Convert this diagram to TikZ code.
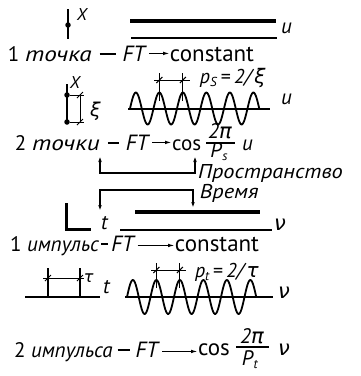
\documentclass[tikz,border=0pt]{standalone}
\usepackage{fontspec}
\setmainfont{PT Sans}
\newfontfamily\gr{DejaVu Sans}
\newfontfamily\wide[FakeStretch=1.2]{PT Sans}
\newfontfamily\wider[FakeStretch=1.12]{PT Sans}
\usetikzlibrary{arrows.meta}
\newcommand{\subx}[1]{\raisebox{-3.5pt}{\fontsize{13}{14}\selectfont\textit{#1}}}
\newcommand{\dsh}[1]{\rule[6.5pt]{#1}{1.3pt}}
\newcommand{\ftx}{{\fontsize{22}{24}\selectfont\textit{FT}}}
\begin{document}
\begin{tikzpicture}[x=1pt,y=-1pt,
  every node/.style={inner sep=0pt, outer sep=0pt},
  lbl/.style={font=\fontsize{21}{24}\selectfont},
  up/.style={font=\fontsize{23}{26}\selectfont},
  itl/.style={font=\fontsize{21}{24}\selectfont\itshape},
  sm/.style={font=\fontsize{17}{20}\selectfont\itshape},
  ln/.style={line width=1.3pt},
  thn/.style={line width=1.7pt},
  thk/.style={line width=3.4pt},
  wv/.style={line width=1.8pt},
  tk/.style={line width=1pt},
  arr/.style={line width=1.3pt,-{Latex[length=7pt,width=3.6pt]}},
  barr/.style={line width=1.3pt,{Latex[length=6pt,width=3.6pt]}-{Latex[length=6pt,width=3.6pt]}},
  dot/.style={circle, fill, inner sep=0pt, minimum size=5.5pt}
]
\useasboundingbox (0,0) rectangle (360,376);

% ---------- section 1: one point ----------
\coordinate (a1) at (68,9);
\coordinate (a2) at (68,39);
\draw[ln] (a1) -- (a2);
\node[dot] (p1) at (68,25) {};
\node[sm, anchor=base west] (x1) at (77,20) {X};
\draw[thk] (130,21) -- (276,21);
\draw[thn] (131,38) -- (277,38);
\node[itl, anchor=base west] (u1) at (281,33) {u};

\node[lbl, anchor=base west] (t1) at (8,61) {1 {\wide\itshape точка}\hspace{8pt}\dsh{16pt}\hspace{7pt}\ftx};
\node[up, anchor=base west] (c1) at (170,61) {constant};
\draw[arr] ([xshift=2pt]t1.east) -- (t1.east -| c1.west);

% ---------- section 2: two points ----------
\draw[ln] (67,84) -- (67,122);
\node[dot] (p2a) at (67,95) {};
\node[dot] (p2b) at (67,122) {};
\node[sm, anchor=base west] (x2) at (70,88) {X};
\draw[tk] (p2a) -- (84,95);
\draw[tk] (p2b) -- (84,122);
\draw[tk] (80,95) -- (80,122);
\draw[tk] (77,98) -- (83,92);
\draw[tk] (77,125) -- (83,119);
\node[font=\fontsize{19}{22}\selectfont, anchor=base west] (xi) at (90,116) {\gr\itshape ξ};

\draw[ln] (128,109) -- (270,109);
\draw[wv, domain=130:259.25, samples=160, smooth] plot (\x, {108.5 - 16*sin((\x-130)/23.5*360)});
\draw[tk] (159.4,101) -- (159.4,73);
\draw[tk] (182.9,101) -- (182.9,73);
\draw[tk] (154,80) -- (190,80);
\draw[tk] (156.4,83) -- (162.4,77);
\draw[tk] (179.9,83) -- (185.9,77);
\node[font=\fontsize{20}{22}\selectfont, anchor=base west] (ps) at (200,83) {\textit{p}\subx{S}\,=\,\textit{2/}{\gr\itshape ξ}};
\node[itl, anchor=base west] (u2) at (281,104) {u};

\node[lbl, anchor=base west] (t2) at (15,150) {2 {\wide\itshape точки}\hspace{8pt}\dsh{11pt}\hspace{7pt}\ftx};
\node[lbl, anchor=base west] (c2) at (172,150) {cos};
\draw[arr] ([xshift=2pt]t2.east) -- (t2.east -| c2.west);
\node[lbl, anchor=base] (n2) at (220,138) {\textit{2}{\gr\itshape π}};
\draw[ln] (206,143) -- (235,143);
\node[lbl, anchor=base] (d2) at (219,157) {\textit{P}\subx{s}};
\node[itl, anchor=base west] (u3) at (242,150) {u};

% ---------- brackets ----------
\draw[barr] (100,156) -- (100,173) -- (195,173) -- (195,156);
\node[font=\fontsize{20}{24}\selectfont\wider\itshape, anchor=base west] (sp) at (198,178) {Пространство};
\draw[barr] (100,211) -- (100,190) -- (193,190) -- (193,208);
\node[font=\fontsize{20}{24}\selectfont\wider\itshape, anchor=base west] (vr) at (200,198) {Время};

% ---------- section 3: one impulse ----------
\draw[line width=3pt] (66,203) -- (66,229) -- (91,229);
\node[itl, anchor=base west] (tt1) at (101,229) {t};
\draw[thk] (135,212) -- (260,212);
\draw[thn] (120,230) -- (272,230);
\node[itl, anchor=base west] (nu1) at (274,230) {\gr ν};

\node[lbl, anchor=base west] (t3) at (10,251) {1 \textit{импульс}\hspace{2pt}\dsh{7pt}\hspace{3pt}\ftx};
\node[up, anchor=base west] (c3) at (175,251) {constant};
\draw[arr] ([xshift=2pt]t3.east) -- (t3.east -| c3.west);

% ---------- section 4: two impulses ----------
\draw[ln] (25,297) -- (100,297);
\draw[line width=1.7pt] (48,268) -- (48,297);
\draw[line width=1.7pt] (80,268) -- (80,297);
\draw[tk] (43,278) -- (84,278);
\draw[tk] (45,281) -- (51,275);
\draw[tk] (77,281) -- (83,275);
\node[font=\fontsize{16}{18}\selectfont, anchor=base west] (tau) at (84,282) {\gr\itshape τ};
\node[itl, anchor=base west] (tt2) at (103,293) {t};

\draw[ln] (125,297) -- (273,297);
\draw[wv, domain=127:256.25, samples=160, smooth] plot (\x, {297 - 17*sin((\x-127)/23.5*360)});
\draw[tk] (156.4,288) -- (156.4,263);
\draw[tk] (179.9,288) -- (179.9,263);
\draw[tk] (151,270) -- (186,270);
\draw[tk] (153.4,273) -- (159.4,267);
\draw[tk] (176.9,273) -- (182.9,267);
\node[font=\fontsize{20}{22}\selectfont, anchor=base west] (pt) at (195,277) {\textit{p}\subx{t}\,=\,\textit{2/}{\gr\itshape τ}};
\node[itl, anchor=base west] (nu2) at (278,298) {\gr ν};

\node[lbl, anchor=base west] (t4) at (14,357) {2 \textit{импульса}\hspace{5pt}\dsh{12pt}\hspace{6pt}\ftx};
\node[up, anchor=base west] (c4) at (198,355) {cos};
\draw[arr] ([xshift=2pt]t4.east) -- (t4.east -| c4.west);
\node[lbl, anchor=base] (n4) at (252,343) {\textit{2}{\gr\itshape π}};
\draw[ln] (236,347) -- (269,347);
\node[lbl, anchor=base] (d4) at (250,365) {\textit{P}\subx{t}};
\node[itl, anchor=base west] (nu3) at (278,355) {\gr ν};
\end{tikzpicture}
\end{document}
